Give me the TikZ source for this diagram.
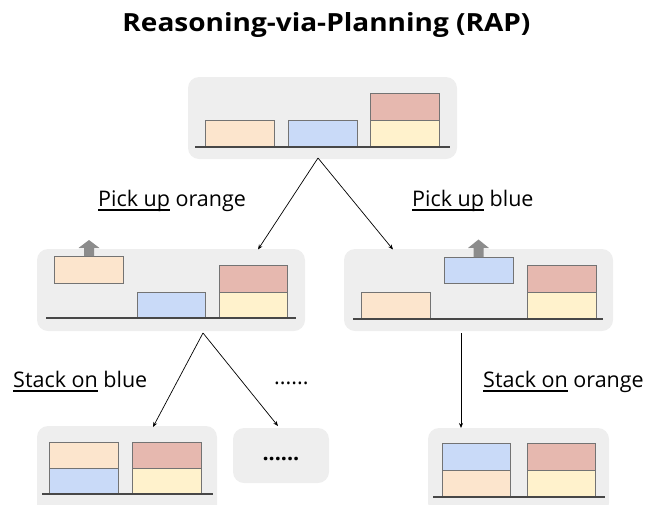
\documentclass[tikz,border=0pt]{standalone}
\usepackage{fontspec}
\setmainfont{Open Sans}
\usetikzlibrary{arrows.meta}
\definecolor{panelgray}{HTML}{EEEEEE}
\definecolor{blkorange}{HTML}{FCE5CD}
\definecolor{blkblue}{HTML}{C9DAF8}
\definecolor{blkyellow}{HTML}{FFF2CC}
\definecolor{blkred}{HTML}{E6B8AF}
\definecolor{liftgray}{HTML}{8C8C8C}
% underline at a fixed depth below the baseline
\newcommand\undl[1]{\setbox0\hbox{#1}\rlap{\rule[-4.6pt]{\wd0}{1.3pt}}\box0\relax}
\tikzset{
  panel/.style={fill=panelgray, draw=none, rounded corners=11pt, inner sep=0pt},
  blk/.style={draw=black!55, line width=0.9pt},
  ground/.style={draw=black!72, line width=1.5pt},
  lift/.style={fill=liftgray, draw=none},
  link/.style={draw=black, line width=0.7pt, -{Stealth[length=5pt,width=4pt]}},
  lbl/.style={font=\fontsize{21.5}{26}\selectfont, inner sep=0pt, anchor=base west},
}
\begin{document}
\begin{tikzpicture}[x=1pt, y=-1pt]
\useasboundingbox (0,0) rectangle (648,504);
\clip (0,0) rectangle (648,504);

% title
\node[font=\fontsize{25}{30}\selectfont\bfseries, inner sep=0pt, anchor=base] (title) at (326.5,31) {\scalebox{1.12}[1]{Reasoning-via-Planning (RAP)}};

% ---------- panels ----------
\node[panel, minimum width=269pt, minimum height=82pt] (p0) at (322.5,118) {};
\node[panel, minimum width=268pt, minimum height=82pt] (p1) at (171,290) {};
\node[panel, minimum width=269pt, minimum height=82pt] (p2) at (478.5,290) {};
\node[panel, minimum width=180pt, minimum height=90pt] (p3) at (127,471) {};
\node[panel, minimum width=96pt, minimum height=55pt] (p4) at (281,455.5) {};
\node[panel, minimum width=181pt, minimum height=86pt] (p5) at (518.5,471) {};

% ---------- top state ----------
\draw[blk, fill=blkorange] (205,120) rectangle (274,147);
\draw[blk, fill=blkblue] (288,120) rectangle (357,147);
\draw[blk, fill=blkyellow] (370,120) rectangle (439,147);
\draw[blk, fill=blkred] (370,93) rectangle (439,120);
\draw[ground] (195,147) -- (450,147);

% ---------- after picking up orange ----------
\draw[blk, fill=blkorange] (54,256) rectangle (123,283);
\fill[lift] (84,256) -- (84,248) -- (78.5,248) -- (89,240) -- (99.5,248) -- (94,248) -- (94,256) -- cycle;
\draw[blk, fill=blkblue] (137,292) rectangle (205,318);
\draw[blk, fill=blkyellow] (219,292) rectangle (287,318);
\draw[blk, fill=blkred] (219,265) rectangle (287,292);
\draw[ground] (46,318) -- (296,318);

% ---------- after picking up blue ----------
\draw[blk, fill=blkorange] (361,292) rectangle (430,319);
\draw[blk, fill=blkblue] (444,257) rectangle (513,283);
\fill[lift] (473.5,257) -- (473.5,248) -- (468,248) -- (478.5,239.5) -- (489,248) -- (483.5,248) -- (483.5,257) -- cycle;
\draw[blk, fill=blkyellow] (527,292) rectangle (596,319);
\draw[blk, fill=blkred] (527,265) rectangle (596,292);
\draw[ground] (353,319) -- (603,319);

% ---------- orange stacked on blue ----------
\draw[blk, fill=blkblue] (49,468) rectangle (118,494);
\draw[blk, fill=blkorange] (49,442) rectangle (118,468);
\draw[blk, fill=blkyellow] (132,468) rectangle (201,494);
\draw[blk, fill=blkred] (132,442) rectangle (201,468);
\draw[ground] (42,494) -- (213,494);

% ---------- other branches ----------
\node[font=\fontsize{21.5}{26}\selectfont\bfseries, inner sep=0pt, anchor=base] at (p4.center) [yshift=-5pt] {......};

% ---------- blue stacked on orange ----------
\draw[blk, fill=blkorange] (442,470) rectangle (510,497);
\draw[blk, fill=blkblue] (442,443) rectangle (510,470);
\draw[blk, fill=blkyellow] (527,470) rectangle (595,497);
\draw[blk, fill=blkred] (527,443) rectangle (595,470);
\draw[ground] (433,497) -- (605,497);

% ---------- connectors ----------
\coordinate (s0) at (318,158);
\coordinate (e1) at (258,249.5);
\coordinate (e2) at (393,249.5);
\coordinate (s1) at (203,333);
\coordinate (e3) at (153,427);
\coordinate (e4) at (278,426);
\coordinate (s2) at (461,333);
\coordinate (e5) at (461,428);
\draw[link] (s0) -- (e1);
\draw[link] (s0) -- (e2);
\draw[link] (s1) -- (e3);
\draw[link] (s1) -- (e4);
\draw[link] (s2) -- (e5);

% ---------- action labels ----------
\node[lbl] (l1) at (98,206) {\undl{Pick up} orange};
\node[lbl] (l2) at (412,206) {\undl{Pick up} blue};
\node[lbl] (l3) at (13,387) {\undl{Stack on} blue};
\node[lbl] (l4) at (274,384) {......};
\node[lbl] (l5) at (483,387) {\undl{Stack on} orange};
\end{tikzpicture}
\end{document}
